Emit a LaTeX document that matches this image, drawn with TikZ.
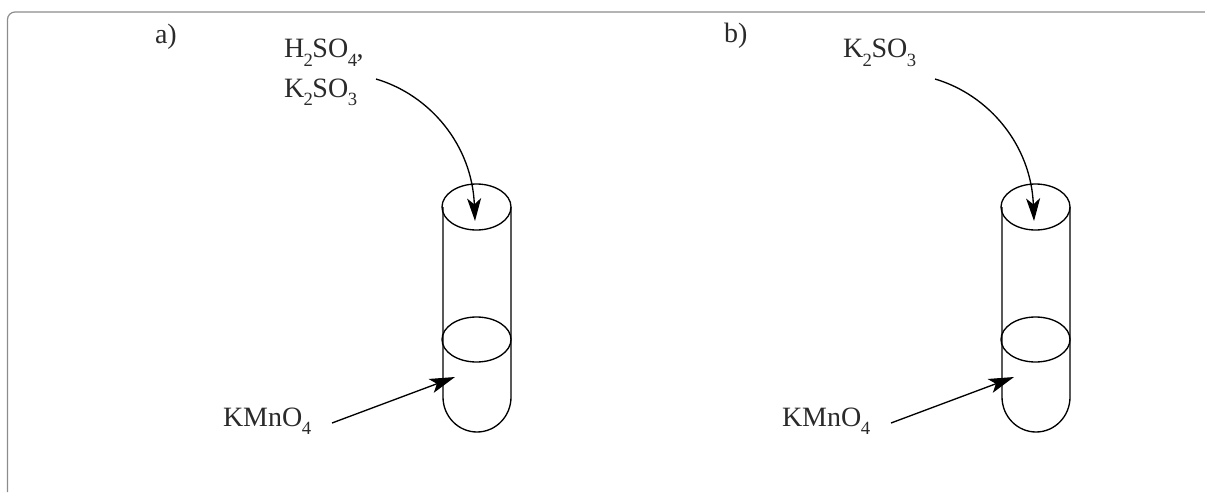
\documentclass[tikz,border=0pt]{standalone}
\usepackage{fontspec}
\setmainfont{Liberation Serif}
\usetikzlibrary{arrows.meta}
\newcommand{\sbs}[1]{\kern-0.4pt\raisebox{-6pt}{\fontsize{14}{14}\selectfont #1}\kern-0.4pt}
\definecolor{ink}{HTML}{2A2A2A}
\tikzset{
  x=0.75pt,y=-0.75pt,
  frameline/.style={draw=black!45,line width=0.9pt},
  tubeline/.style={draw=black,line width=1pt},
  chem/.style={inner sep=0pt,outer sep=0pt,anchor=base west,text=ink,font=\fontsize{21}{25}\selectfont},
  pointer/.style={draw=black,line width=1pt,-{Stealth[length=17pt,width=10.5pt,inset=4.5pt]}},
  pointerb/.style={draw=black,line width=1pt,-{Stealth[length=19pt,width=11pt,inset=4.5pt]}},
}
\newcommand{\tube}[1]{%
  \begin{scope}[shift={(#1,0)}]
    \draw[tubeline] (476.5,207) ellipse [x radius=34.5,y radius=23];
    \draw[tubeline] (476.5,339.5) ellipse [x radius=34.5,y radius=22.5];
    \draw[tubeline] (443,207) -- (443,397) arc[start angle=180,end angle=360,x radius=34,y radius=-35] -- (511,207);
  \end{scope}}
\begin{document}
\begin{tikzpicture}
\useasboundingbox (0,0) rectangle (1205,492);
\draw[frameline] (1205,12) -- (15,12) arc[start angle=90,end angle=180,x radius=7.5,y radius=-7.5] -- (7.5,492);
\tube{0}
\tube{559}
\node[chem] (la) at (155,44) {a)};
\node[chem] (lb) at (724,43) {b)};
\node[chem] (acid) at (284,58) {H\sbs{2}SO\sbs{4},};
\node[chem] (sulf) at (284,97) {K\sbs{2}SO\sbs{3}};
\node[chem] (sulfb) at (843,58) {K\sbs{2}SO\sbs{3}};
\node[chem] (perma) at (223,426) {KMnO\sbs{4}};
\node[chem] (permb) at (782,426) {KMnO\sbs{4}};
\coordinate (s1) at (376,79);
\coordinate (e1) at (475,221);
\coordinate (s2) at (935,79);
\coordinate (e2) at (1034,221);
\coordinate (s3) at (332,423);
\coordinate (e3) at (455,377);
\coordinate (s4) at (891,423);
\coordinate (e4) at (1014,377);
\draw[pointer] (s1) .. controls (430,95) and (472,145) .. (e1);
\draw[pointer] (s2) .. controls (989,95) and (1031,145) .. (e2);
\draw[pointerb] (s3) -- (e3);
\draw[pointerb] (s4) -- (e4);
\end{tikzpicture}
\end{document}
